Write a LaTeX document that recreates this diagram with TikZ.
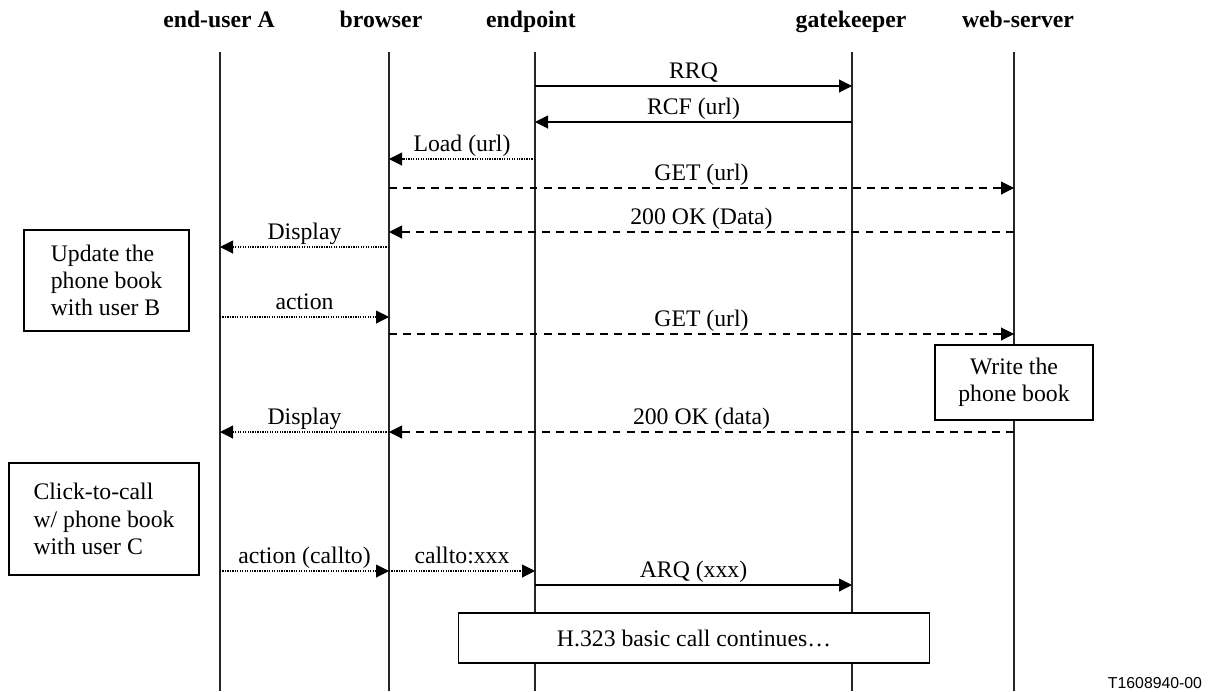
\documentclass[tikz,border=0pt]{standalone}
\usepackage{fontspec}
\setmainfont{Liberation Serif}
\newfontfamily\tagfont{Liberation Sans}
\usetikzlibrary{arrows.meta}

\begin{document}
\begin{tikzpicture}[x=0.02cm,y=-0.02cm,>={Triangle[length=7.4pt,width=7.4pt]},
    every node/.style={font=\fontsize{13.5}{15.5}\selectfont},
    hdr/.style={anchor=base,font=\fontsize{13.5}{15.5}\selectfont\bfseries},
    life/.style={line width=0.6pt,draw=black!85},
    sync/.style={->,line width=0.6pt},
    dotmsg/.style={->,line width=0.6pt,dash pattern=on 0.7pt off 0.7pt},
    dashmsg/.style={->,line width=0.6pt,dash pattern=on 4.5pt off 3.5pt},
    lbl/.style={anchor=base,yshift=4.5pt,inner sep=0pt},
    note/.style={draw,fill=white,line width=0.6pt,inner sep=0pt}]
    \useasboundingbox (0,0) rectangle (1211,691);
    % headers
    \node[hdr] (hUa) at (219,27) {end-user A};
    \node[hdr] (hBr) at (381,27) {browser};
    \node[hdr] (hEp) at (531,27) {endpoint};
    \node[hdr] (hGk) at (851,27) {gatekeeper};
    \node[hdr] (hWs) at (1018,27) {web-server};
    % lifelines
    \coordinate (uaT) at (220,52);  \coordinate (uaB) at (220,691);
    \coordinate (brT) at (389,52);  \coordinate (brB) at (389,691);
    \coordinate (epT) at (535,52);  \coordinate (epB) at (535,691);
    \coordinate (gkT) at (852,52);  \coordinate (gkB) at (852,691);
    \coordinate (wsT) at (1014,52); \coordinate (wsB) at (1014,691);
    \foreach \l in {ua,br,ep,gk,ws}
        \draw[life] (\l T) -- (\l B);
    % registration
    \draw[sync] (epT |- 0,86) -- node[lbl] {RRQ} (gkT |- 0,86);
    \draw[sync] (gkT |- 0,122) -- node[lbl] {RCF (url)} (epT |- 0,122);
    \draw[dotmsg] (epT |- 0,159) -- node[lbl] {Load (url)} (brT |- 0,159);
    \draw[dashmsg] (brT |- 0,188) -- node[lbl] {GET (url)} (wsT |- 0,188);
    \draw[dashmsg] (wsT |- 0,232) -- node[lbl] {200 OK (Data)} (brT |- 0,232);
    \draw[dotmsg] (brT |- 0,247) -- node[lbl] {Display} (uaT |- 0,247);
    % phone book update
    \draw[dotmsg] (uaT |- 0,317) -- node[lbl] {action} (brT |- 0,317);
    \draw[dashmsg] (brT |- 0,334) -- node[lbl] {GET (url)} (wsT |- 0,334);
    \draw[dashmsg] (wsT |- 0,432) -- node[lbl] {200 OK (data)} (brT |- 0,432);
    \draw[dotmsg] (brT |- 0,432) -- node[lbl] {Display} (uaT |- 0,432);
    % click-to-call
    \draw[dotmsg] (uaT |- 0,571) -- node[lbl] {action (callto)} (brT |- 0,571);
    \draw[dotmsg] (brT |- 0,571) -- node[lbl] {callto:xxx} (epT |- 0,571);
    \draw[sync] (epT |- 0,585) -- node[lbl] {ARQ (xxx)} (gkT |- 0,585);
    % notes
    \node[note,align=left,minimum width=3.3cm,minimum height=2.02cm] (upd) at (106.5,280.5)
        {Update the\\phone book\\with user B};
    \node[note,align=center,minimum width=3.16cm,minimum height=1.5cm] (wrt) at (1014,382.5)
        {Write the\\phone book};
    \node[note,align=left,minimum width=3.8cm,minimum height=2.24cm] (clk) at (104,519)
        {Click-to-call\\w/ phone book\\with user C};
    \node[note,minimum width=9.44cm,minimum height=1cm] (cont) at (694,638)
        {H.323 basic call continues\ldots};
    \node[font=\tagfont\fontsize{9}{11}\selectfont] (tag) at (1155,683) {T1608940-00};
\end{tikzpicture}
\end{document}
